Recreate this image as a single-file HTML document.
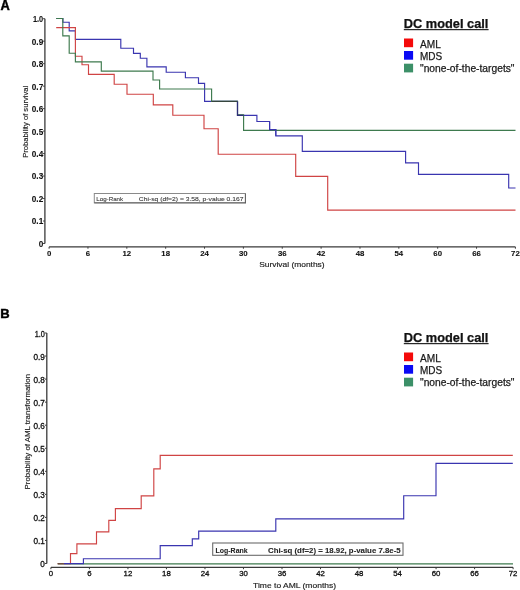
<!DOCTYPE html>
<html><head><meta charset="utf-8"><style>html,body{margin:0;padding:0;background:#fff;width:520px;height:590px;overflow:hidden}svg{display:block;will-change:transform}</style></head><body>
<svg width="520" height="590" viewBox="0 0 520 590">
<style>
text{font-family:"Liberation Sans",sans-serif;fill:#1a1a1a}
.tk{font-size:7.8px;font-weight:bold;fill:#111;stroke:#111;stroke-width:0.1px}
.tkb{font-weight:normal;stroke-width:0.3px}
.al{font-size:7.2px;fill:#222;stroke:#222;stroke-width:0.15px}
.lt{font-size:11.9px;font-weight:bold;fill:#111;stroke:#111;stroke-width:0.25px}
.lg{font-size:10.4px;fill:#1a1a1a;stroke:#1a1a1a;stroke-width:0.25px}
.pl{font-size:14px;font-weight:bold;fill:#000;stroke:#000;stroke-width:0.45px}
.lr{font-size:5.8px;fill:#3a3a3a;stroke:#3a3a3a;stroke-width:0.1px}
</style>
<rect width="520" height="590" fill="#fff"/>
<text x="0.6" y="9.6" class="pl" textLength="9.3" lengthAdjust="spacingAndGlyphs">A</text>
<text x="0.3" y="317.8" class="pl" style="font-size:13.4px" textLength="9.4" lengthAdjust="spacingAndGlyphs">B</text>
<line x1="44.9" y1="18.7" x2="44.9" y2="243.5" stroke="#3a3a3a" stroke-width="1.3"/>
<line x1="43.1" y1="243.5" x2="44.9" y2="243.5" stroke="#3a3a3a" stroke-width="1"/>
<text x="43.2" y="246.9" class="tk" style="font-size:8.2px" text-anchor="end">0</text>
<line x1="43.1" y1="221.02" x2="44.9" y2="221.02" stroke="#3a3a3a" stroke-width="1"/>
<text x="43.2" y="224.42" class="tk" style="font-size:8.2px" text-anchor="end">0.1</text>
<line x1="43.1" y1="198.54" x2="44.9" y2="198.54" stroke="#3a3a3a" stroke-width="1"/>
<text x="43.2" y="201.94" class="tk" style="font-size:8.2px" text-anchor="end">0.2</text>
<line x1="43.1" y1="176.06" x2="44.9" y2="176.06" stroke="#3a3a3a" stroke-width="1"/>
<text x="43.2" y="179.46" class="tk" style="font-size:8.2px" text-anchor="end">0.3</text>
<line x1="43.1" y1="153.58" x2="44.9" y2="153.58" stroke="#3a3a3a" stroke-width="1"/>
<text x="43.2" y="156.98" class="tk" style="font-size:8.2px" text-anchor="end">0.4</text>
<line x1="43.1" y1="131.1" x2="44.9" y2="131.1" stroke="#3a3a3a" stroke-width="1"/>
<text x="43.2" y="134.5" class="tk" style="font-size:8.2px" text-anchor="end">0.5</text>
<line x1="43.1" y1="108.62" x2="44.9" y2="108.62" stroke="#3a3a3a" stroke-width="1"/>
<text x="43.2" y="112.02" class="tk" style="font-size:8.2px" text-anchor="end">0.6</text>
<line x1="43.1" y1="86.14" x2="44.9" y2="86.14" stroke="#3a3a3a" stroke-width="1"/>
<text x="43.2" y="89.54" class="tk" style="font-size:8.2px" text-anchor="end">0.7</text>
<line x1="43.1" y1="63.66" x2="44.9" y2="63.66" stroke="#3a3a3a" stroke-width="1"/>
<text x="43.2" y="67.06" class="tk" style="font-size:8.2px" text-anchor="end">0.8</text>
<line x1="43.1" y1="41.18" x2="44.9" y2="41.18" stroke="#3a3a3a" stroke-width="1"/>
<text x="43.2" y="44.58" class="tk" style="font-size:8.2px" text-anchor="end">0.9</text>
<line x1="43.1" y1="18.7" x2="44.9" y2="18.7" stroke="#3a3a3a" stroke-width="1"/>
<text x="43.2" y="22.1" class="tk" style="font-size:8.2px" text-anchor="end" textLength="10.2" lengthAdjust="spacingAndGlyphs">1.0</text>
<line x1="49.1" y1="246.9" x2="515.4" y2="246.9" stroke="#3a3a3a" stroke-width="1.3"/>
<line x1="49.1" y1="246.9" x2="49.1" y2="248.7" stroke="#3a3a3a" stroke-width="1"/>
<text x="49.1" y="255.7" class="tk" text-anchor="middle">0</text>
<line x1="87.96" y1="246.9" x2="87.96" y2="248.7" stroke="#3a3a3a" stroke-width="1"/>
<text x="87.96" y="255.7" class="tk" text-anchor="middle">6</text>
<line x1="126.82" y1="246.9" x2="126.82" y2="248.7" stroke="#3a3a3a" stroke-width="1"/>
<text x="126.82" y="255.7" class="tk" text-anchor="middle">12</text>
<line x1="165.67" y1="246.9" x2="165.67" y2="248.7" stroke="#3a3a3a" stroke-width="1"/>
<text x="165.67" y="255.7" class="tk" text-anchor="middle">18</text>
<line x1="204.53" y1="246.9" x2="204.53" y2="248.7" stroke="#3a3a3a" stroke-width="1"/>
<text x="204.53" y="255.7" class="tk" text-anchor="middle">24</text>
<line x1="243.39" y1="246.9" x2="243.39" y2="248.7" stroke="#3a3a3a" stroke-width="1"/>
<text x="243.39" y="255.7" class="tk" text-anchor="middle">30</text>
<line x1="282.25" y1="246.9" x2="282.25" y2="248.7" stroke="#3a3a3a" stroke-width="1"/>
<text x="282.25" y="255.7" class="tk" text-anchor="middle">36</text>
<line x1="321.11" y1="246.9" x2="321.11" y2="248.7" stroke="#3a3a3a" stroke-width="1"/>
<text x="321.11" y="255.7" class="tk" text-anchor="middle">42</text>
<line x1="359.97" y1="246.9" x2="359.97" y2="248.7" stroke="#3a3a3a" stroke-width="1"/>
<text x="359.97" y="255.7" class="tk" text-anchor="middle">48</text>
<line x1="398.82" y1="246.9" x2="398.82" y2="248.7" stroke="#3a3a3a" stroke-width="1"/>
<text x="398.82" y="255.7" class="tk" text-anchor="middle">54</text>
<line x1="437.68" y1="246.9" x2="437.68" y2="248.7" stroke="#3a3a3a" stroke-width="1"/>
<text x="437.68" y="255.7" class="tk" text-anchor="middle">60</text>
<line x1="476.54" y1="246.9" x2="476.54" y2="248.7" stroke="#3a3a3a" stroke-width="1"/>
<text x="476.54" y="255.7" class="tk" text-anchor="middle">66</text>
<line x1="515.4" y1="246.9" x2="515.4" y2="248.7" stroke="#3a3a3a" stroke-width="1"/>
<text x="515.4" y="255.7" class="tk" text-anchor="middle">72</text>
<text class="al" transform="translate(28,121.8) rotate(-90)" text-anchor="middle" textLength="72" lengthAdjust="spacingAndGlyphs">Probability of survival</text>
<text class="al" x="291.9" y="267.2" text-anchor="middle" textLength="65.4" lengthAdjust="spacingAndGlyphs">Survival (months)</text>
<path d="M56.2,18.5 H62.9 V22.2 H69.2 V30.8 H75.4 V39.3 H120.8 V48.2 H133.5 V53.4 H140.3 V58.2 H146.9 V66.9 H166.2 V72.2 H185.4 V77.7 H198.5 V83.4 H204.6 V101.4 H237.5 V115.4 H256.9 V121.5 H269.6 V129.6 H275.8 V135.8 H302.3 V151.4 H405.6 V162.8 H418.5 V174.4 H508.7 V188 H515.5" fill="none" stroke="#3a35b0" stroke-width="1.15" stroke-linejoin="miter" stroke-linecap="butt"/>
<path d="M56.2,27.6 H75.4 V56.2 H82 V64.7 H88.5 V74.4 H114.2 V84.2 H127 V94.2 H153.3 V104.9 H172.8 V115.2 H204 V128.7 H218.2 V154.2 H295.7 V176.3 H327.7 V210.1 H515.5" fill="none" stroke="#d04444" stroke-width="1.15" stroke-linejoin="miter" stroke-linecap="butt"/>
<path d="M56.2,18.5 H62.8 V35.8 H69.2 V53.2 H75.4 V61.9 H101.3 V71.1 H153 V80 H159.6 V89 H211.6 V101.4 H237.5 V114.8 H243.6 V130.3 H515.5" fill="none" stroke="#3e7a4e" stroke-width="1.15" stroke-linejoin="miter" stroke-linecap="butt"/>
<path d="M211.6,101.4 H237.5" fill="none" stroke="#36463e" stroke-width="1.15" stroke-linejoin="miter" stroke-linecap="butt"/>
<path d="M237.5,101.4 V115.4 H243.6" fill="none" stroke="#2e2e78" stroke-width="1.15" stroke-linejoin="miter" stroke-linecap="butt"/>
<path d="M269.6,121.5 V129.6 H275.8 V135.8" fill="none" stroke="#3a35b0" stroke-width="1.15" stroke-linejoin="miter" stroke-linecap="butt"/>
<text x="403.8" y="27.8" class="lt" textLength="84.6" lengthAdjust="spacingAndGlyphs">DC model call</text>
<rect x="403.8" y="29.1" width="84.8" height="1.1" fill="#111"/>
<rect x="404" y="38.5" width="9.1" height="8.7" fill="#f40a0a"/>
<text x="420" y="47.5" class="lg" textLength="20.8" lengthAdjust="spacingAndGlyphs">AML</text>
<rect x="404" y="51" width="9.1" height="8.7" fill="#0a0af4"/>
<text x="420" y="59.8" class="lg" textLength="22.2" lengthAdjust="spacingAndGlyphs">MDS</text>
<rect x="404" y="63.7" width="9.1" height="8.7" fill="#3c9068"/>
<text x="420" y="71.9" class="lg" textLength="94.5" lengthAdjust="spacingAndGlyphs">"none-of-the-targets"</text>
<rect x="94.3" y="193.5" width="151" height="9.3" fill="#fff" stroke="#8a8a8a" stroke-width="1"/>
<line x1="94.3" y1="202.9" x2="245.8" y2="202.9" stroke="#555" stroke-width="0.9"/>
<line x1="245.5" y1="193.5" x2="245.5" y2="203.2" stroke="#555" stroke-width="0.8"/>
<text x="96.3" y="200.8" class="lr" textLength="26.8" lengthAdjust="spacingAndGlyphs">Log-Rank</text>
<text x="138.8" y="200.8" class="lr" textLength="104.7" lengthAdjust="spacingAndGlyphs">Chi-sq (df=2) = 3.58, p-value 0.167</text>
<line x1="46.8" y1="333" x2="46.8" y2="563.5" stroke="#3a3a3a" stroke-width="1.3"/>
<line x1="45" y1="563.5" x2="46.8" y2="563.5" stroke="#3a3a3a" stroke-width="1"/>
<text x="44.9" y="567.1" class="tk tkb" style="font-size:8.2px" text-anchor="end">0</text>
<line x1="45" y1="540.45" x2="46.8" y2="540.45" stroke="#3a3a3a" stroke-width="1"/>
<text x="44.9" y="544.05" class="tk tkb" style="font-size:8.2px" text-anchor="end">0.1</text>
<line x1="45" y1="517.4" x2="46.8" y2="517.4" stroke="#3a3a3a" stroke-width="1"/>
<text x="44.9" y="521" class="tk tkb" style="font-size:8.2px" text-anchor="end">0.2</text>
<line x1="45" y1="494.35" x2="46.8" y2="494.35" stroke="#3a3a3a" stroke-width="1"/>
<text x="44.9" y="497.95" class="tk tkb" style="font-size:8.2px" text-anchor="end">0.3</text>
<line x1="45" y1="471.3" x2="46.8" y2="471.3" stroke="#3a3a3a" stroke-width="1"/>
<text x="44.9" y="474.9" class="tk tkb" style="font-size:8.2px" text-anchor="end">0.4</text>
<line x1="45" y1="448.25" x2="46.8" y2="448.25" stroke="#3a3a3a" stroke-width="1"/>
<text x="44.9" y="451.85" class="tk tkb" style="font-size:8.2px" text-anchor="end">0.5</text>
<line x1="45" y1="425.2" x2="46.8" y2="425.2" stroke="#3a3a3a" stroke-width="1"/>
<text x="44.9" y="428.8" class="tk tkb" style="font-size:8.2px" text-anchor="end">0.6</text>
<line x1="45" y1="402.15" x2="46.8" y2="402.15" stroke="#3a3a3a" stroke-width="1"/>
<text x="44.9" y="405.75" class="tk tkb" style="font-size:8.2px" text-anchor="end">0.7</text>
<line x1="45" y1="379.1" x2="46.8" y2="379.1" stroke="#3a3a3a" stroke-width="1"/>
<text x="44.9" y="382.7" class="tk tkb" style="font-size:8.2px" text-anchor="end">0.8</text>
<line x1="45" y1="356.05" x2="46.8" y2="356.05" stroke="#3a3a3a" stroke-width="1"/>
<text x="44.9" y="359.65" class="tk tkb" style="font-size:8.2px" text-anchor="end">0.9</text>
<line x1="45" y1="333" x2="46.8" y2="333" stroke="#3a3a3a" stroke-width="1"/>
<text x="44.9" y="336.6" class="tk tkb" style="font-size:8.2px" text-anchor="end" textLength="10.2" lengthAdjust="spacingAndGlyphs">1.0</text>
<line x1="50.9" y1="567.4" x2="513.1" y2="567.4" stroke="#3a3a3a" stroke-width="1.3"/>
<line x1="50.9" y1="567.4" x2="50.9" y2="569.2" stroke="#3a3a3a" stroke-width="1"/>
<text x="50.9" y="575.9" class="tk tkb" text-anchor="middle">0</text>
<line x1="89.42" y1="567.4" x2="89.42" y2="569.2" stroke="#3a3a3a" stroke-width="1"/>
<text x="89.42" y="575.9" class="tk tkb" text-anchor="middle">6</text>
<line x1="127.93" y1="567.4" x2="127.93" y2="569.2" stroke="#3a3a3a" stroke-width="1"/>
<text x="127.93" y="575.9" class="tk tkb" text-anchor="middle">12</text>
<line x1="166.45" y1="567.4" x2="166.45" y2="569.2" stroke="#3a3a3a" stroke-width="1"/>
<text x="166.45" y="575.9" class="tk tkb" text-anchor="middle">18</text>
<line x1="204.97" y1="567.4" x2="204.97" y2="569.2" stroke="#3a3a3a" stroke-width="1"/>
<text x="204.97" y="575.9" class="tk tkb" text-anchor="middle">24</text>
<line x1="243.48" y1="567.4" x2="243.48" y2="569.2" stroke="#3a3a3a" stroke-width="1"/>
<text x="243.48" y="575.9" class="tk tkb" text-anchor="middle">30</text>
<line x1="282" y1="567.4" x2="282" y2="569.2" stroke="#3a3a3a" stroke-width="1"/>
<text x="282" y="575.9" class="tk tkb" text-anchor="middle">36</text>
<line x1="320.52" y1="567.4" x2="320.52" y2="569.2" stroke="#3a3a3a" stroke-width="1"/>
<text x="320.52" y="575.9" class="tk tkb" text-anchor="middle">42</text>
<line x1="359.03" y1="567.4" x2="359.03" y2="569.2" stroke="#3a3a3a" stroke-width="1"/>
<text x="359.03" y="575.9" class="tk tkb" text-anchor="middle">48</text>
<line x1="397.55" y1="567.4" x2="397.55" y2="569.2" stroke="#3a3a3a" stroke-width="1"/>
<text x="397.55" y="575.9" class="tk tkb" text-anchor="middle">54</text>
<line x1="436.07" y1="567.4" x2="436.07" y2="569.2" stroke="#3a3a3a" stroke-width="1"/>
<text x="436.07" y="575.9" class="tk tkb" text-anchor="middle">60</text>
<line x1="474.58" y1="567.4" x2="474.58" y2="569.2" stroke="#3a3a3a" stroke-width="1"/>
<text x="474.58" y="575.9" class="tk tkb" text-anchor="middle">66</text>
<line x1="513.1" y1="567.4" x2="513.1" y2="569.2" stroke="#3a3a3a" stroke-width="1"/>
<text x="513.1" y="575.9" class="tk tkb" text-anchor="middle">72</text>
<text class="al" transform="translate(29.6,431.7) rotate(-90)" text-anchor="middle" textLength="115.4" lengthAdjust="spacingAndGlyphs">Probability of AML transformation</text>
<text class="al" x="294.6" y="588" text-anchor="middle" textLength="83" lengthAdjust="spacingAndGlyphs">Time to AML (months)</text>
<path d="M57.7,563.8 H513" fill="none" stroke="#3e7a4e" stroke-width="1.15" stroke-linejoin="miter" stroke-linecap="butt"/>
<path d="M57.7,563.6 H70.5 V553.6 H76.9 V543.8 H96.5 V531.9 H108.8 V520.4 H115.4 V508.6 H141.2 V495.8 H153.8 V468.9 H160.2 V455.4 H512.8" fill="none" stroke="#d04444" stroke-width="1.15" stroke-linejoin="miter" stroke-linecap="butt"/>
<path d="M63.8,563.6 H83.4 V558.7 H160.2 V545.6 H192.3 V538.8 H198.7 V531.1 H275.8 V518.9 H403.7 V495.7 H436 V463.4 H512.8" fill="none" stroke="#3a35b0" stroke-width="1.15" stroke-linejoin="miter" stroke-linecap="butt"/>
<path d="M57.7,563.6 H63.8" fill="none" stroke="#6a4f46" stroke-width="1.15" stroke-linejoin="miter" stroke-linecap="butt"/>
<text x="403.8" y="341.8" class="lt" textLength="84.6" lengthAdjust="spacingAndGlyphs">DC model call</text>
<rect x="403.8" y="343.1" width="84.8" height="1.1" fill="#111"/>
<rect x="404" y="352.5" width="9.1" height="8.7" fill="#f40a0a"/>
<text x="420" y="361.5" class="lg" textLength="20.8" lengthAdjust="spacingAndGlyphs">AML</text>
<rect x="404" y="365" width="9.1" height="8.7" fill="#0a0af4"/>
<text x="420" y="373.8" class="lg" textLength="22.2" lengthAdjust="spacingAndGlyphs">MDS</text>
<rect x="404" y="377.7" width="9.1" height="8.7" fill="#3c9068"/>
<text x="420" y="385.9" class="lg" textLength="94.5" lengthAdjust="spacingAndGlyphs">"none-of-the-targets"</text>
<rect x="212.7" y="543" width="190.3" height="12.3" fill="#fff" stroke="#6c6c6c" stroke-width="1.1"/>
<text x="215.6" y="552.6" class="lr" style="font-size:7.2px;font-weight:bold;fill:#222" textLength="32" lengthAdjust="spacingAndGlyphs">Log-Rank</text>
<text x="268" y="552.6" class="lr" style="font-size:7.2px;font-weight:bold;fill:#222" textLength="132.6" lengthAdjust="spacingAndGlyphs">Chi-sq (df=2) = 18.92, p-value 7.8e-5</text>
</svg>
</body></html>
